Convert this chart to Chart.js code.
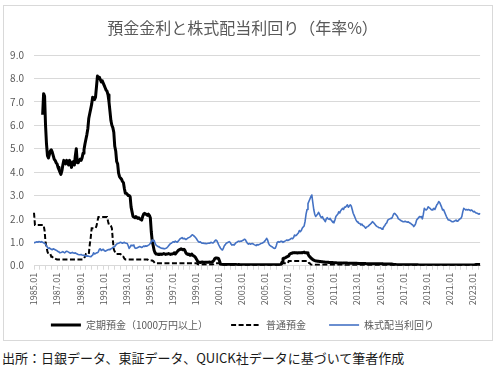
<!DOCTYPE html>
<html>
<head>
<meta charset="utf-8">
<script src="https://cdn.jsdelivr.net/npm/chart.js@4/dist/chart.umd.min.js"></script>
<style>
  html, body { margin: 0; padding: 0; background: #ffffff; }
  body { width: 500px; height: 370px; position: relative; overflow: hidden; }
  .frame { position: absolute; left: 3px; top: 5px; width: 488px; height: 334px; border: 1px solid #d9d9d9; }
  .src { position: absolute; left: 2px; top: 348px; font-family: "Noto Sans CJK JP", sans-serif; font-size: 13px; color: #1a1a1a; white-space: nowrap; }
</style>
</head>
<body>
<div class="frame"><canvas id="c" width="488" height="334"></canvas></div>
<div class="src">出所：日銀データ、東証データ、QUICK社データに基づいて筆者作成</div>
<script>
// ---- Data (monthly, 1985.01 - 2023.09) ----
const startYear = 1985;
const monthCount = 465;
const categories = [];
for (let i = 0; i < monthCount; i++) {
  const y = startYear + Math.floor(i / 12);
  const m = (i % 12) + 1;
  categories.push(y + '.' + (m < 10 ? '0' + m : '' + m));
}

const seriesNames = ['定期預金（1000万円以上）', '普通預金', '株式配当利回り'];

const timeDeposit = [
  null,null,null,null,null,null,null,null,null,6.45,7.35,7.25,
  6.0,5.2,4.7,4.6,4.75,4.9,4.95,4.85,4.7,4.55,4.5,4.4,
  4.35,4.2,4.1,4.0,3.9,4.05,4.3,4.5,4.45,4.35,4.5,4.45,
  4.3,4.5,4.4,4.2,4.4,4.45,4.3,4.7,5.0,4.4,4.4,4.5,
  4.55,4.5,4.6,4.8,4.95,5.2,5.4,5.6,5.85,6.3,6.5,6.7,
  6.9,7.2,7.15,7.1,7.2,7.65,8.1,8.0,8.05,7.95,7.85,7.9,
  7.8,7.7,7.6,7.5,7.45,7.3,7.0,6.6,6.2,6.0,5.9,5.7,
  5.1,4.9,4.45,4.35,3.95,3.8,3.74,3.7,3.6,3.55,3.3,3.1,
  3.1,3.05,3.0,3.0,2.95,2.5,2.3,2.1,2.1,2.05,2.1,2.05,
  2.02,2.05,2.0,1.98,1.95,2.1,2.2,2.24,2.2,2.2,2.15,2.2,
  2.15,2.05,1.45,1.05,0.85,0.65,0.55,0.5,0.5,0.48,0.5,0.48,
  0.5,0.48,0.5,0.52,0.5,0.48,0.5,0.5,0.52,0.5,0.48,0.5,
  0.5,0.52,0.55,0.5,0.55,0.6,0.65,0.68,0.7,0.72,0.7,0.68,
  0.7,0.65,0.55,0.5,0.48,0.5,0.45,0.45,0.5,0.45,0.42,0.4,
  0.35,0.28,0.2,0.15,0.15,0.14,0.15,0.16,0.15,0.14,0.15,0.15,
  0.15,0.15,0.16,0.15,0.15,0.15,0.18,0.22,0.3,0.33,0.33,0.32,
  0.3,0.2,0.06,0.05,0.05,0.05,0.05,0.05,0.05,0.05,0.05,0.05,
  0.05,0.05,0.05,0.05,0.04,0.05,0.05,0.04,0.04,0.05,0.04,0.04,
  0.04,0.04,0.04,0.04,0.04,0.04,0.04,0.04,0.04,0.04,0.04,0.04,
  0.04,0.04,0.04,0.04,0.04,0.04,0.04,0.04,0.04,0.04,0.04,0.04,
  0.04,0.04,0.04,0.04,0.04,0.04,0.04,0.04,0.04,0.04,0.04,0.04,
  0.04,0.04,0.04,0.04,0.04,0.06,0.15,0.3,0.32,0.33,0.35,0.38,
  0.4,0.42,0.5,0.52,0.53,0.55,0.55,0.56,0.55,0.55,0.54,0.55,
  0.55,0.55,0.56,0.55,0.57,0.58,0.55,0.55,0.55,0.5,0.42,0.38,
  0.33,0.3,0.26,0.24,0.22,0.2,0.2,0.19,0.19,0.18,0.18,0.17,
  0.17,0.16,0.16,0.15,0.15,0.15,0.15,0.14,0.14,0.14,0.14,0.13,
  0.13,0.13,0.13,0.12,0.12,0.12,0.12,0.12,0.12,0.11,0.11,0.11,
  0.11,0.11,0.11,0.1,0.1,0.1,0.1,0.1,0.1,0.1,0.1,0.1,
  0.1,0.09,0.09,0.09,0.09,0.09,0.09,0.09,0.09,0.09,0.08,0.08,
  0.08,0.08,0.08,0.08,0.08,0.08,0.08,0.08,0.08,0.08,0.08,0.08,
  0.08,0.08,0.08,0.07,0.07,0.07,0.07,0.07,0.07,0.07,0.07,0.07,
  0.07,0.06,0.05,0.05,0.05,0.04,0.04,0.04,0.04,0.04,0.04,0.04,
  0.04,0.04,0.04,0.04,0.04,0.04,0.04,0.04,0.04,0.04,0.04,0.04,
  0.04,0.04,0.04,0.04,0.03,0.03,0.03,0.03,0.03,0.03,0.03,0.03,
  0.03,0.03,0.03,0.03,0.03,0.03,0.03,0.03,0.03,0.03,0.03,0.03,
  0.03,0.03,0.03,0.03,0.03,0.03,0.03,0.03,0.03,0.03,0.03,0.03,
  0.03,0.03,0.03,0.03,0.03,0.03,0.03,0.03,0.03,0.03,0.03,0.03,
  0.03,0.03,0.03,0.03,0.03,0.03,0.03,0.03,0.03,0.03,0.03,0.03,
  0.03,0.03,0.03,0.04,0.05,0.05,0.05,0.05,0.05
];

const ordinaryDeposit = [
  2.26,1.74,1.74,1.74,1.74,1.74,1.74,1.74,1.74,1.74,1.74,1.5,
  1.0,0.8,0.6,0.5,0.5,0.5,0.38,0.38,0.32,0.32,0.3,0.28,
  0.26,0.26,0.26,0.26,0.26,0.26,0.26,0.26,0.26,0.26,0.26,0.26,
  0.26,0.26,0.26,0.26,0.26,0.26,0.26,0.26,0.26,0.26,0.26,0.26,
  0.26,0.26,0.26,0.26,0.32,0.38,0.5,0.5,0.5,0.5,0.9,1.2,
  1.6,1.6,1.6,1.6,1.6,1.7,1.9,2.08,2.08,2.08,2.08,2.08,
  2.08,2.08,2.08,2.08,2.08,1.9,1.74,1.74,1.7,1.6,1.1,0.7,
  0.6,0.5,0.5,0.5,0.5,0.5,0.5,0.45,0.38,0.38,0.3,0.27,
  0.27,0.27,0.27,0.27,0.27,0.27,0.27,0.27,0.27,0.27,0.27,0.27,
  0.27,0.27,0.27,0.27,0.27,0.27,0.27,0.27,0.27,0.27,0.27,0.22,
  0.22,0.22,0.22,0.22,0.2,0.15,0.1,0.1,0.1,0.1,0.1,0.1,
  0.1,0.1,0.1,0.1,0.1,0.1,0.1,0.1,0.1,0.1,0.1,0.1,
  0.1,0.1,0.1,0.1,0.1,0.1,0.1,0.1,0.1,0.1,0.1,0.1,
  0.1,0.1,0.1,0.1,0.1,0.1,0.1,0.1,0.1,0.1,0.1,0.1,
  0.1,0.1,0.08,0.05,0.05,0.05,0.05,0.05,0.05,0.05,0.05,0.05,
  0.05,0.05,0.05,0.05,0.05,0.05,0.05,0.1,0.1,0.1,0.1,0.1,
  0.1,0.1,0.02,0.02,0.02,0.02,0.02,0.02,0.001,0.001,0.001,0.001,
  0.001,0.001,0.001,0.001,0.001,0.001,0.001,0.001,0.001,0.001,0.001,0.001,
  0.001,0.001,0.001,0.001,0.001,0.001,0.001,0.001,0.001,0.001,0.001,0.001,
  0.001,0.001,0.001,0.001,0.001,0.001,0.001,0.001,0.001,0.001,0.001,0.001,
  0.001,0.001,0.001,0.001,0.001,0.001,0.001,0.001,0.001,0.001,0.001,0.001,
  0.001,0.001,0.001,0.001,0.001,0.001,0.1,0.1,0.1,0.1,0.1,0.1,
  0.1,0.2,0.2,0.2,0.2,0.2,0.2,0.2,0.2,0.2,0.2,0.2,
  0.2,0.2,0.2,0.2,0.2,0.2,0.2,0.2,0.2,0.2,0.12,0.1,
  0.05,0.04,0.04,0.04,0.04,0.04,0.04,0.04,0.04,0.04,0.04,0.04,
  0.04,0.04,0.04,0.04,0.04,0.04,0.04,0.04,0.04,0.04,0.04,0.04,
  0.04,0.04,0.04,0.04,0.04,0.04,0.04,0.04,0.04,0.04,0.04,0.04,
  0.02,0.02,0.02,0.02,0.02,0.02,0.02,0.02,0.02,0.02,0.02,0.02,
  0.02,0.02,0.02,0.02,0.02,0.02,0.02,0.02,0.02,0.02,0.02,0.02,
  0.02,0.02,0.02,0.02,0.02,0.02,0.02,0.02,0.02,0.02,0.02,0.02,
  0.02,0.02,0.02,0.02,0.02,0.02,0.02,0.02,0.02,0.02,0.02,0.02,
  0.02,0.001,0.001,0.001,0.001,0.001,0.001,0.001,0.001,0.001,0.001,0.001,
  0.001,0.001,0.001,0.001,0.001,0.001,0.001,0.001,0.001,0.001,0.001,0.001,
  0.001,0.001,0.001,0.001,0.001,0.001,0.001,0.001,0.001,0.001,0.001,0.001,
  0.001,0.001,0.001,0.001,0.001,0.001,0.001,0.001,0.001,0.001,0.001,0.001,
  0.001,0.001,0.001,0.001,0.001,0.001,0.001,0.001,0.001,0.001,0.001,0.001,
  0.001,0.001,0.001,0.001,0.001,0.001,0.001,0.001,0.001,0.001,0.001,0.001,
  0.001,0.001,0.001,0.001,0.001,0.001,0.001,0.001,0.001,0.001,0.001,0.001,
  0.001,0.001,0.001,0.001,0.001,0.001,0.001,0.001,0.001
];

const dividendYield = [
  0.98,1.0,1.0,1.02,1.0,1.03,1.02,1.0,1.03,1.0,0.98,0.95,
  0.92,0.85,0.78,0.74,0.76,0.72,0.7,0.68,0.72,0.7,0.68,0.66,
  0.64,0.6,0.58,0.55,0.56,0.58,0.6,0.57,0.55,0.6,0.62,0.6,
  0.58,0.55,0.53,0.55,0.57,0.54,0.53,0.55,0.52,0.5,0.48,0.47,
  0.47,0.48,0.46,0.45,0.44,0.43,0.42,0.41,0.42,0.4,0.39,0.38,
  0.42,0.45,0.55,0.5,0.52,0.55,0.55,0.6,0.7,0.72,0.65,0.68,
  0.7,0.65,0.62,0.64,0.66,0.68,0.7,0.68,0.72,0.74,0.78,0.8,
  0.82,0.88,0.92,0.95,0.96,0.98,1.0,0.98,0.96,0.98,1.0,0.97,
  0.96,0.95,0.85,0.74,0.8,0.88,0.85,0.88,0.84,0.76,0.74,0.76,
  0.78,0.8,0.82,0.8,0.78,0.8,0.84,0.82,0.85,0.83,0.85,0.88,
  0.9,0.96,1.02,1.1,1.05,1.08,0.95,0.88,0.85,0.82,0.8,0.78,
  0.76,0.74,0.74,0.73,0.72,0.74,0.76,0.8,0.85,0.9,0.95,0.96,
  1.0,1.02,1.0,1.05,1.02,1.0,1.05,1.1,1.15,1.17,1.2,1.15,
  1.17,1.15,1.12,1.15,1.18,1.2,1.22,1.25,1.3,1.32,1.28,1.25,
  1.2,1.15,1.08,1.03,1.0,1.02,0.98,0.96,0.97,0.95,0.96,0.94,
  0.95,0.96,0.97,0.96,1.0,0.98,0.97,1.0,1.05,1.1,1.08,1.0,
  0.9,0.82,0.75,0.7,0.67,0.75,0.85,0.9,0.96,0.98,1.0,1.03,
  1.0,0.92,0.88,0.9,0.88,0.92,0.98,1.0,1.03,1.05,1.03,1.05,
  1.05,1.08,1.1,1.13,1.1,1.02,0.96,0.92,0.95,0.92,0.94,0.95,
  0.93,0.9,0.88,0.86,0.9,0.88,0.9,0.92,0.95,0.96,0.98,1.0,
  1.05,1.1,1.17,1.1,0.95,0.88,0.85,0.82,0.8,0.76,0.74,0.75,
  0.85,1.0,1.03,1.0,1.02,1.05,1.03,1.0,1.02,1.05,1.07,1.1,
  1.08,1.1,1.12,1.15,1.17,1.15,1.2,1.31,1.28,1.3,1.35,1.4,
  1.5,1.45,1.5,1.6,1.65,1.7,1.9,2.2,2.4,2.65,2.75,2.85,
  2.95,3.02,2.7,2.4,2.2,2.1,2.15,2.2,2.28,2.2,2.1,2.05,
  2.1,2.0,1.95,1.88,2.0,2.05,2.0,1.98,2.02,1.95,1.9,1.85,
  1.83,1.95,2.1,2.15,2.2,2.3,2.25,2.35,2.4,2.45,2.4,2.5,
  2.5,2.55,2.6,2.5,2.55,2.6,2.55,2.4,2.24,2.15,2.05,1.95,
  1.88,1.85,1.81,1.8,1.74,1.78,1.72,1.7,1.65,1.6,1.65,1.67,
  1.7,1.75,1.78,1.82,1.88,1.85,1.8,1.75,1.7,1.67,1.65,1.62,
  1.62,1.6,1.56,1.6,1.67,1.72,1.8,1.83,1.95,1.98,2.0,2.02,
  2.02,2.1,2.2,2.24,2.2,2.15,2.1,2.0,1.98,1.95,1.92,1.9,
  1.88,1.88,1.9,1.88,1.86,1.88,1.85,1.82,1.8,1.76,1.74,1.67,
  1.72,1.8,1.95,2.0,2.05,2.1,2.08,2.1,2.0,2.2,2.45,2.4,
  2.38,2.42,2.52,2.48,2.45,2.4,2.38,2.42,2.45,2.4,2.5,2.6,
  2.65,2.74,2.7,2.6,2.5,2.38,2.4,2.3,2.2,2.1,2.02,1.95,
  1.95,1.93,1.9,1.88,1.88,1.9,1.92,1.95,1.9,1.92,1.96,2.0,
  2.02,2.1,2.3,2.45,2.42,2.38,2.4,2.38,2.4,2.38,2.35,2.38,
  2.35,2.3,2.32,2.28,2.25,2.24,2.22,2.2,2.24
];

const yTickMin = 0, yTickMax = 9, yTickStep = 1;
const labelEvery = 24, tickEvery = 6;

const FONT = '"Noto Sans CJK JP", "Noto Sans", sans-serif';
const GREY = '#595959';
// extra spacing after legend entries (invisible trailing spaces)
const legendGap = ['\u3000\u3000', '\u3000\u2002', ''];

new Chart(document.getElementById('c'), {
  type: 'line',
  data: {
    labels: categories,
    datasets: [
      { label: seriesNames[0], data: timeDeposit, borderColor: '#000000', backgroundColor: '#000000',
        borderWidth: 3, pointRadius: 0, tension: 0, borderJoinStyle: 'round', order: 3 },
      { label: seriesNames[1], data: ordinaryDeposit, borderColor: '#000000', backgroundColor: '#000000',
        borderWidth: 2, borderDash: [5, 2.5], pointRadius: 0, tension: 0, order: 2 },
      { label: seriesNames[2], data: dividendYield, borderColor: '#4472C4', backgroundColor: '#4472C4',
        borderWidth: 1.6, pointRadius: 0, tension: 0, borderJoinStyle: 'round', order: 1 }
    ]
  },
  options: {
    responsive: false,
    animation: false,
    layout: { padding: { left: 0, right: 11, top: 0, bottom: 0 } },
    plugins: {
      title: {
        display: true,
        text: '預金金利と株式配当利回り（年率%）',
        color: GREY,
        font: { family: FONT, size: 16, weight: 'normal' },
        padding: { top: 12.4, bottom: 17.4 }
      },
      legend: {
        position: 'bottom',
        labels: {
          usePointStyle: true,
          pointStyle: 'line',
          pointStyleWidth: 30,
          padding: 8,
          color: GREY,
          font: { family: FONT, size: 10 },
          sort: (a, b) => a.datasetIndex - b.datasetIndex,
          generateLabels: function (chart) {
            const items = Chart.defaults.plugins.legend.labels.generateLabels(chart);
            items.forEach((it) => {
              const ds = chart.data.datasets[it.datasetIndex];
              it.lineDash = ds.borderDash || [];
              it.lineWidth = ds.borderWidth;
              it.strokeStyle = ds.borderColor;
              it.text = it.text + legendGap[it.datasetIndex];
            });
            return items;
          }
        }
      },
      tooltip: { enabled: false }
    },
    scales: {
      x: {
        type: 'category',
        offset: false,
        afterFit: (s) => { s.height = 46.3; },
        grid: { display: true, drawOnChartArea: false, drawTicks: true, tickLength: 4, color: '#d9d9d9' },
        border: { display: true, color: '#d9d9d9', width: 1 },
        ticks: {
          autoSkip: false,
          minRotation: 90, maxRotation: 90,
          padding: 3,
          color: GREY,
          font: { family: FONT, size: 9 },
          callback: function (v, i) {
            if (i % labelEvery === 0) return categories[i];
            if (i % tickEvery === 0) return '';
            return null;
          }
        }
      },
      y: {
        min: yTickMin, max: yTickMax,
        afterFit: (s) => { s.width = 30; },
        grid: { color: '#d9d9d9', drawTicks: false, lineWidth: 1 },
        border: { display: false },
        ticks: {
          stepSize: yTickStep,
          padding: 10,
          color: GREY,
          font: { family: FONT, size: 10 },
          callback: (v) => Number(v).toFixed(1)
        }
      }
    }
  }
});
</script>
</body>
</html>
